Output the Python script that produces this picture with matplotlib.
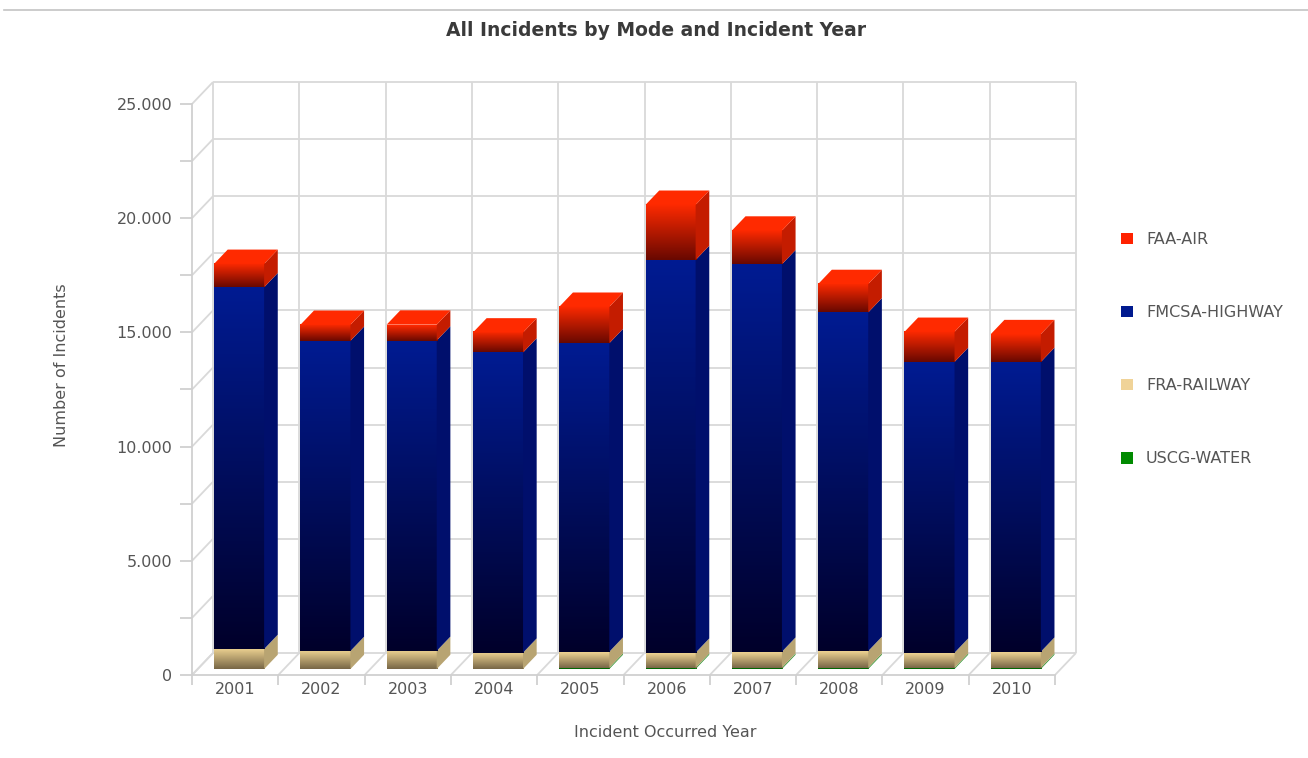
import numpy as np
import matplotlib.pyplot as plt
from matplotlib.colors import LinearSegmentedColormap
from matplotlib.patches import Polygon, Patch
from matplotlib.lines import Line2D
from matplotlib.ticker import FuncFormatter, MultipleLocator, FixedLocator

# Data (bottom segment first)
years = ['2001', '2002', '2003', '2004', '2005', '2006', '2007', '2008', '2009', '2010']
water = [0, 0, 0, 0, 60, 60, 60, 60, 60, 60]
railway = [878, 790, 795, 716, 700, 656, 700, 730, 656, 700]
highway = [15838, 13580, 13590, 13144, 13508, 17195, 16962, 14825, 12731, 12687]
air = [1024, 702, 695, 877, 1593, 2415, 1475, 1243, 1317, 1216]

names = ['USCG-WATER', 'FRA-RAILWAY', 'FMCSA-HIGHWAY', 'FAA-AIR']
series = [water, railway, highway, air]

# front gradient (bottom, top), side, top face, legend colour
styles = [
    ('#005a00', '#0a8a0a', '#3d9b3d', '#1aa01a', '#008a00'),
    ('#776646', '#eed392', '#b8a472', '#f0d69a', '#f0d398'),
    ('#00002a', '#001b92', '#000f6c', '#0a2aa0', '#001a8f'),
    ('#680800', '#ff2a00', '#c41c00', '#ff2a00', '#ff2200'),
]

grey = '#555555'
plt.rcParams['font.family'] = 'DejaVu Sans'

fig = plt.figure(figsize=(13.08, 7.58), dpi=100)
# axes = front plane of the 3D box
ax = fig.add_axes([192 / 1308, 83 / 758, 863 / 1308, 571 / 758])
ax.set_xlim(-0.5, 9.5)
ax.set_ylim(0, 25000)

# depth offset of the box in data units (21 px right, 22 px up)
DX = 21 / (ax.bbox.width / 10)
DY = 22 / (ax.bbox.height / 25000)

# walls and floor grid
gkw = dict(color='#d9d9d9', lw=1.3, clip_on=False, zorder=0, solid_capstyle='butt')
for v in np.arange(0, 25001, 2500):
    ax.plot([-0.5 + DX, 9.5 + DX], [v + DY, v + DY], **gkw)
    ax.plot([-0.5, -0.5 + DX], [v, v + DY], **gkw)
for b in np.arange(-0.5, 10, 1):
    ax.plot([b + DX, b + DX], [DY, 25000 + DY], **gkw)
    ax.plot([b, b + DX], [0, DY], **gkw)

# bars
f0, f1 = 0.27, 0.92
w = 0.58
shift = -0.02
grad = np.linspace(0, 1, 256).reshape(-1, 1)
cmaps = [LinearSegmentedColormap.from_list('c%d' % k, [st[0], st[1]]) for k, st in enumerate(styles)]
ddx, ddy = (f1 - f0) * DX, (f1 - f0) * DY

for i in range(len(years)):
    base = 0
    x0 = i - w / 2 + f0 * DX + shift
    x1 = i + w / 2 + f0 * DX + shift
    for s, vals in enumerate(series):
        h = vals[i]
        if h <= 0:
            continue
        y0 = base + f0 * DY
        y1 = base + h + f0 * DY
        ax.imshow(grad, extent=(x0, x1, y0, y1), cmap=cmaps[s], origin='lower',
                  aspect='auto', interpolation='bilinear', clip_on=False, zorder=2)
        ax.add_patch(Polygon([(x1, y0), (x1 + ddx, y0 + ddy), (x1 + ddx, y1 + ddy), (x1, y1)],
                             closed=True, fc=styles[s][2], ec='none', clip_on=False, zorder=2))
        base += h
    top = base + f0 * DY
    ax.add_patch(Polygon([(x0, top), (x1, top), (x1 + ddx, top + ddy), (x0 + ddx, top + ddy)],
                         closed=True, fc=styles[-1][3], ec='none', clip_on=False, zorder=2))

ax.set_xlim(-0.5, 9.5)
ax.set_ylim(0, 25000)

# axes styling
for sp in ['top', 'right']:
    ax.spines[sp].set_visible(False)
for sp in ['left', 'bottom']:
    ax.spines[sp].set_color('#d0d0d0')
    ax.spines[sp].set_linewidth(1.3)

ax.yaxis.set_major_locator(MultipleLocator(5000))
ax.yaxis.set_minor_locator(MultipleLocator(2500))
ax.yaxis.set_major_formatter(FuncFormatter(lambda v, p: f'{v:,.0f}'.replace(',', '.')))
ax.tick_params(axis='y', which='both', length=8.6, width=1.3, color='#d0d0d0',
               labelsize=11.5, labelcolor=grey, pad=5.5)

ax.set_xticks(range(len(years)))
ax.set_xticklabels(years)
ax.xaxis.set_minor_locator(FixedLocator(np.arange(-0.5, 10, 1)))
ax.tick_params(axis='x', which='major', length=0, labelsize=11.5, labelcolor=grey, pad=5)
ax.tick_params(axis='x', which='minor', length=7.2, width=1.3, color='#d0d0d0')

ax.set_ylabel('Number of Incidents', fontsize=11.5, color=grey)
ax.yaxis.set_label_coords(-0.143, 0.543)
ax.set_xlabel('Incident Occurred Year', fontsize=11.5, color=grey)
ax.xaxis.set_label_coords(0.548, -0.087)

# title and header rule
fig.text(0.5015, 1 - 30 / 758, 'All Incidents by Mode and Incident Year', ha='center',
         va='center', fontsize=13.5, fontweight='bold', color='#3a3a3a')
fig.add_artist(Line2D([4 / 1308, 1], [1 - 10 / 758] * 2, transform=fig.transFigure,
                      color='#c4c4c4', lw=1.2))

# legend (top item first)
handles = [Patch(fc=styles[k][4], ec='none') for k in [3, 2, 1, 0]]
labels = [names[k] for k in [3, 2, 1, 0]]
fig.legend(handles, labels, loc='upper left', bbox_to_anchor=(1121 / 1308, 1 - 232 / 758),
           frameon=False, fontsize=11.5, labelcolor=grey, handlelength=0.72, handleheight=0.72,
           handletextpad=0.85, labelspacing=3.64, borderpad=0, borderaxespad=0)

fig.savefig('out.png', dpi=100)
